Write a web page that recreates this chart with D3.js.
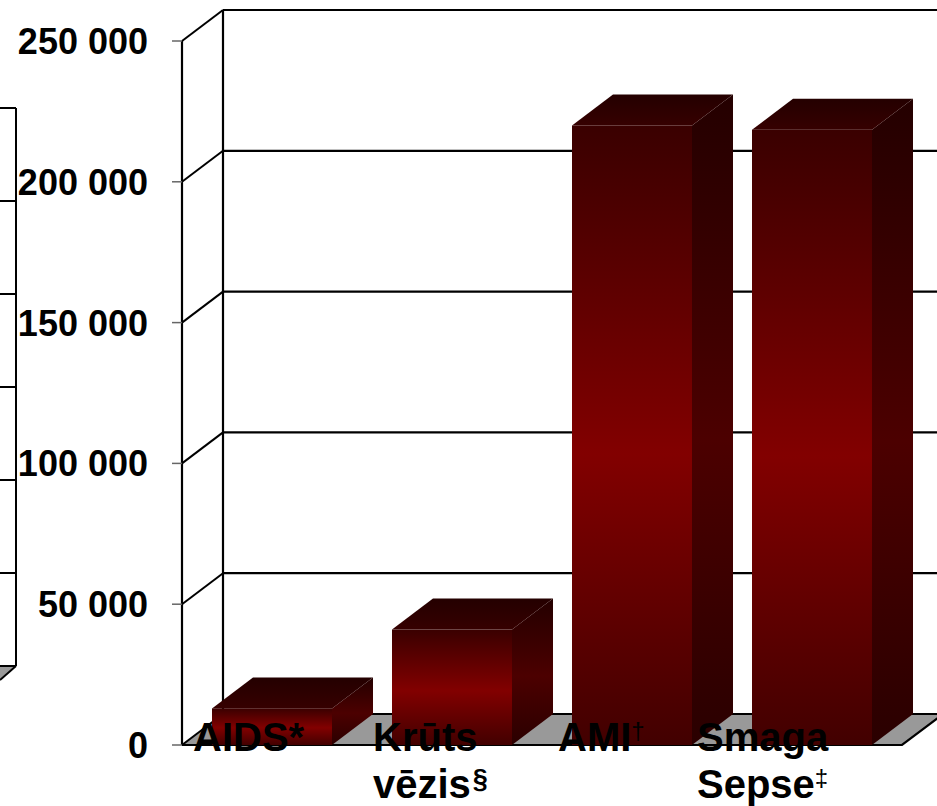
<!DOCTYPE html>
<html>
<head>
<meta charset="utf-8">
<script src="https://cdn.jsdelivr.net/npm/d3@7"></script>
<style>
  body { margin: 0; background: #fff; }
  svg { display: block; font-family: "Liberation Sans", Arial, sans-serif; font-weight: bold; }
</style>
</head>
<body>
<svg width="937" height="806"></svg>
<script>
// chart data
const categories = ["AIDS", "Krūts vēzis", "AMI", "Smaga Sepse"]
const notes      = ["*", "§", "†", "‡"]
const values     = [13000, 41000, 220000, 218500]
const yTicks     = [0, 50000, 100000, 150000, 200000, 250000]
// the cut-off neighbour chart at the far left (gridline steps only)
const ghostSteps = [0, 1, 2, 3, 4, 5, 6]

const svg = d3.select("svg"),
      width = +svg.attr("width"),
      depth = {dx: 41, dy: -31}

const y = d3.scaleLinear().domain([0, 250000]).range([745, 41]),
      x = d3.scaleBand().domain(categories).range([182, 902])
            .paddingInner(1/3).paddingOuter(1/6),
      yGhost = d3.scaleLinear().domain([0, 6]).range([666, 108]),
      fmt = d3.formatLocale({decimal: ",", thousands: " ", grouping: [3], currency: ["", ""]}).format(",d")

const data = categories.map((c, i) => ({cat: c, note: notes[i], value: values[i]}))

// gradients
const defs = svg.append("defs")
function grad(id, stops, x2, y2) {
  const g = defs.append("linearGradient").attr("id", id)
    .attr("x1", 0).attr("y1", 0).attr("x2", x2).attr("y2", y2)
  stops.forEach(s => g.append("stop").attr("offset", s[0]).attr("stop-color", s[1]))
}
grad("gFront", [[0, "#3a0000"], [0.53, "#820000"], [1, "#420000"]], 0, 1)
grad("gSide",  [[0, "#240000"], [0.53, "#4c0000"], [1, "#2a0000"]], 0, 1)
grad("gTop",   [[0, "#240000"], [1, "#360000"]], 0, 1)

// ghost chart edge on the left
const ghost = svg.append("g")
ghost.append("path")
  .attr("d", `M16,${yGhost(0)} L0,${yGhost(0) + 14} L0,${yGhost(0)} Z`)
  .style("fill", "#999")
ghost.selectAll("line.gh")
  .data(ghostSteps)
  .enter().append("line")
    .attr("x1", 0).attr("x2", 16)
    .attr("y1", d => yGhost(d)).attr("y2", d => yGhost(d))
    .style("stroke", "#000").style("stroke-width", 2)
ghost.append("line")
  .attr("x1", 16).attr("x2", 16)
  .attr("y1", yGhost(6)).attr("y2", yGhost(0))
  .style("stroke", "#000").style("stroke-width", 2)
ghost.append("line")
  .attr("x1", 16).attr("y1", yGhost(0))
  .attr("x2", 0).attr("y2", yGhost(0) + 14)
  .style("stroke", "#000").style("stroke-width", 2)

// floor
const x0 = x.range()[0], x1 = x.range()[1], y0 = y(0)
svg.append("path")
  .attr("d", `M${x0},${y0} L${x1},${y0} L${x1 + depth.dx},${y0 + depth.dy} L${x0 + depth.dx},${y0 + depth.dy} Z`)
  .style("fill", "#999")
svg.append("path")
  .attr("d", `M${x0},${y0} L${x1},${y0} L${x1 + depth.dx},${y0 + depth.dy}`)
  .style("fill", "none").style("stroke", "#000").style("stroke-width", 2.2)

// back wall gridlines and side wall diagonals
svg.selectAll(".grid")
    .data(yTicks)
  .enter().append("line")
    .attr("x1", x0 + depth.dx).attr("x2", width + 10)
    .attr("y1", d => y(d) + depth.dy).attr("y2", d => y(d) + depth.dy)
    .style("stroke", "#000").style("stroke-width", 2.2)
svg.selectAll(".diag")
    .data(yTicks)
  .enter().append("line")
    .attr("x1", x0).attr("y1", d => y(d))
    .attr("x2", x0 + depth.dx).attr("y2", d => y(d) + depth.dy)
    .style("stroke", "#000").style("stroke-width", 2)
svg.append("line")
  .attr("x1", x0).attr("x2", x0).attr("y1", y(250000)).attr("y2", y0)
  .style("stroke", "#000").style("stroke-width", 2.2)
svg.append("line")
  .attr("x1", x0 + depth.dx).attr("x2", x0 + depth.dx)
  .attr("y1", y(250000) + depth.dy).attr("y2", y0 + depth.dy)
  .style("stroke", "#000").style("stroke-width", 2.2)

// tick marks and labels
svg.selectAll(".tick")
    .data(yTicks)
  .enter().append("line")
    .attr("x1", x0 - 10).attr("x2", x0)
    .attr("y1", d => y(d)).attr("y2", d => y(d))
    .style("stroke", "#666").style("stroke-width", 1.5)
svg.selectAll(".ylab")
    .data(yTicks)
  .enter().append("text")
    .attr("x", x0 - 34)
    .attr("y", d => y(d))
    .attr("dy", "0.36em")
    .style("text-anchor", "end")
    .style("font-size", "36px")
    .text(d => fmt(d))

// bars
const bw = x.bandwidth()
const bars = svg.selectAll(".bar")
    .data(data)
  .enter().append("g")

bars.append("path")
  .attr("d", d => {
    const a = x(d.cat), b = a + bw, t = y(d.value)
    return `M${b},${t} L${b + depth.dx},${t + depth.dy} L${b + depth.dx},${y0 + depth.dy} L${b},${y0} Z`
  })
  .style("fill", "url(#gSide)")
bars.append("path")
  .attr("d", d => {
    const a = x(d.cat), b = a + bw, t = y(d.value)
    return `M${a},${t} L${a + depth.dx},${t + depth.dy} L${b + depth.dx},${t + depth.dy} L${b},${t} Z`
  })
  .style("fill", "url(#gTop)")
bars.append("rect")
  .attr("x", d => x(d.cat))
  .attr("y", d => y(d.value))
  .attr("width", bw)
  .attr("height", d => y0 - y(d.value))
  .style("fill", "url(#gFront)")

// category labels (placed like the slide's text boxes)
const labelShift = {"AIDS": -19, "Krūts vēzis": -19, "AMI": -14, "Smaga Sepse": -55}
const labels = svg.selectAll(".xlab")
    .data(data)
  .enter().append("text")
    .attr("x", d => x(d.cat) + labelShift[d.cat])
    .attr("y", y0 + 6)
    .style("font-size", "40px")

labels.each(function(d) {
  const t = d3.select(this),
        words = d.cat.split(" "),
        lx = x(d.cat) + labelShift[d.cat]
  words.forEach((w, i) => {
    t.append("tspan")
      .attr("x", lx)
      .attr("dy", i === 0 ? 0 : 47)
      .text(w)
  })
  if (d.note === "*") {
    t.append("tspan").text(d.note)
  } else if (d.note === "§") {
    t.append("tspan")
      .style("font-size", "27px")
      .attr("dx", 2)
      .attr("dy", -10)
      .text(d.note)
  } else {
    t.append("tspan")
      .style("font-size", "24px")
      .style("font-weight", "normal")
      .attr("dy", -12)
      .text(d.note)
  }
})
</script>
</body>
</html>
